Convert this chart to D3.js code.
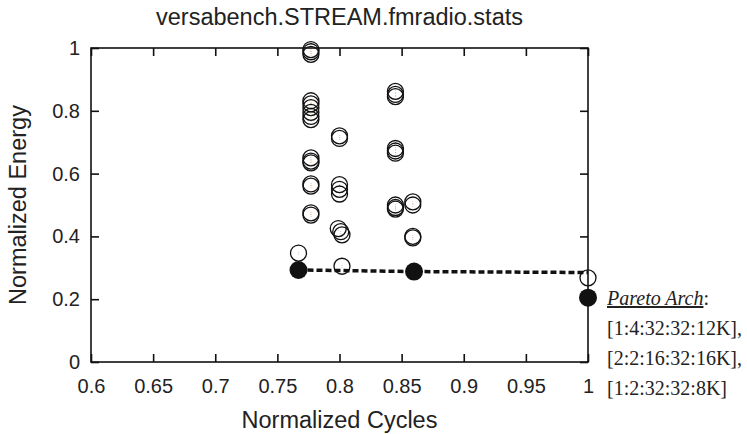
<!DOCTYPE html>
<html>
<head>
<meta charset="utf-8">
<script src="https://cdn.jsdelivr.net/npm/d3@7"></script>
<style>
  body { margin: 0; background: #fff; }
  svg { display: block; }
</style>
</head>
<body>
<script>
// design points (normalized cycles, normalized energy)
let designCycles = [
  0.777, 0.777, 0.777, 0.777, 0.777, 0.777, 0.777, 0.777, 0.777,
  0.777, 0.777, 0.777, 0.777, 0.777, 0.777, 0.777,
  0.767,
  0.800, 0.800, 0.800, 0.800, 0.800, 0.799, 0.801, 0.802, 0.802,
  0.845, 0.845, 0.845, 0.845, 0.845, 0.845, 0.845, 0.845, 0.845,
  0.859, 0.859, 0.859, 0.859,
  1.0
]
let designEnergy = [
  0.995, 0.988, 0.980, 0.832, 0.822, 0.810, 0.795, 0.782, 0.772,
  0.650, 0.640, 0.634, 0.567, 0.560, 0.475, 0.468,
  0.347,
  0.720, 0.712, 0.565, 0.550, 0.535, 0.425, 0.415, 0.405, 0.305,
  0.862, 0.852, 0.845, 0.680, 0.672, 0.665, 0.500, 0.492, 0.487,
  0.510, 0.500, 0.400, 0.395,
  0.268
]
// pareto optimal points
let paretoCycles = [0.767, 0.860, 1.0]
let paretoEnergy = [0.293, 0.288, 0.205]
// frontier line
let frontCycles = [0.767, 0.860, 1.0]
let frontEnergy = [0.293, 0.288, 0.285]

let xTicks = [0.6, 0.65, 0.7, 0.75, 0.8, 0.85, 0.9, 0.95, 1]
let yTicks = [0, 0.2, 0.4, 0.6, 0.8, 1]
let paretoLabels = ['[1:4:32:32:12K],', '[2:2:16:32:16K],', '[1:2:32:32:8K]']

renderChart()

function renderChart() {
  let width = 747
  let height = 434
  let left = 91, right = 588, top = 48, bottom = 362
  let sans = '"Liberation Sans", Arial, sans-serif'
  let serif = '"Liberation Serif", "Times New Roman", serif'
  let ink = '#222'

  let x = d3.scaleLinear().domain([0.6, 1]).range([left, right])
  let y = d3.scaleLinear().domain([0, 1]).range([bottom, top])

  let chart = d3.select('body').append('svg').attr('width', width).attr('height', height)

  // frame
  chart.append('rect')
    .attr('x', left).attr('y', top)
    .attr('width', right - left).attr('height', bottom - top)
    .attr('fill', 'none').attr('stroke', '#111').attr('stroke-width', 1.6)

  // ticks on all four sides, pointing inward
  let tl = 8
  let fmt = d3.format('')
  let xb = chart.append('g').attr('transform', `translate(0,${bottom})`)
    .call(d3.axisBottom(x).tickValues(xTicks).tickSize(-tl).tickFormat(fmt))
  xb.selectAll('text').attr('y', 31).attr('dy', 0)
  let xt = chart.append('g').attr('transform', `translate(0,${top})`)
    .call(d3.axisTop(x).tickValues(xTicks).tickSize(-tl).tickFormat(''))
  let yl = chart.append('g').attr('transform', `translate(${left},0)`)
    .call(d3.axisLeft(y).tickValues(yTicks).tickSize(-tl).tickFormat(fmt))
  yl.selectAll('text').attr('x', -11)
  let yr = chart.append('g').attr('transform', `translate(${right},0)`)
    .call(d3.axisRight(y).tickValues(yTicks).tickSize(-tl).tickFormat(''))
  ;[xb, xt, yl, yr].forEach(g => {
    g.select('.domain').remove()
    g.selectAll('line').attr('stroke', '#111').attr('stroke-width', 1.6)
    g.selectAll('text').attr('font-family', sans).attr('font-size', 20).attr('fill', ink)
  })

  // frontier dashed line
  let front = frontCycles.map((c, i) => ({ c: c, e: frontEnergy[i] }))
  let line = d3.line().x(d => x(d.c)).y(d => y(d.e))
  chart.append('path')
    .attr('d', line(front))
    .attr('fill', 'none').attr('stroke', '#111')
    .attr('stroke-width', 3.5).attr('stroke-dasharray', '6,3')

  // design points
  let pts = designCycles.map((c, i) => ({ c: c, e: designEnergy[i] }))
  let g = chart.append('g').selectAll('g').data(pts).enter().append('g')
  g.append('circle')
    .attr('cx', d => x(d.c)).attr('cy', d => y(d.e)).attr('r', 8)
    .attr('fill', 'none').attr('stroke', '#111').attr('stroke-width', 1.3)
  g.append('text')
    .attr('x', d => x(d.c)).attr('y', d => y(d.e) + 2)
    .attr('text-anchor', 'middle')
    .attr('font-family', sans).attr('font-size', 5).attr('fill', '#333')
    .text(':')

  // pareto points
  let par = paretoCycles.map((c, i) => ({ c: c, e: paretoEnergy[i] }))
  chart.append('g').selectAll('circle').data(par).enter().append('circle')
    .attr('cx', d => x(d.c)).attr('cy', d => y(d.e)).attr('r', 9)
    .attr('fill', '#111')

  // title and axis titles
  chart.append('text')
    .attr('x', (left + right) / 2).attr('y', 25)
    .attr('text-anchor', 'middle')
    .attr('font-family', sans).attr('font-size', 23.5).attr('fill', ink)
    .text('versabench.STREAM.fmradio.stats')
  chart.append('text')
    .attr('x', (left + right) / 2).attr('y', 428)
    .attr('text-anchor', 'middle')
    .attr('font-family', sans).attr('font-size', 23.5).attr('fill', ink)
    .text('Normalized Cycles')
  chart.append('text')
    .attr('transform', `translate(26,${(top + bottom) / 2}) rotate(-90)`)
    .attr('text-anchor', 'middle')
    .attr('font-family', sans).attr('font-size', 23.5).attr('fill', ink)
    .text('Normalized Energy')

  // pareto annotation
  let ann = chart.append('text')
    .attr('x', 607).attr('y', 305)
    .attr('font-family', serif).attr('font-size', 20).attr('fill', ink)
  ann.append('tspan').attr('font-style', 'italic').attr('text-decoration', 'underline').text('Pareto Arch')
  ann.append('tspan').text(':')
  chart.append('g').selectAll('text').data(paretoLabels).enter().append('text')
    .attr('x', 607).attr('y', (d, i) => 335 + i * 30)
    .attr('font-family', serif).attr('font-size', 20).attr('fill', ink)
    .text(d => d)
}
</script>
</body>
</html>
